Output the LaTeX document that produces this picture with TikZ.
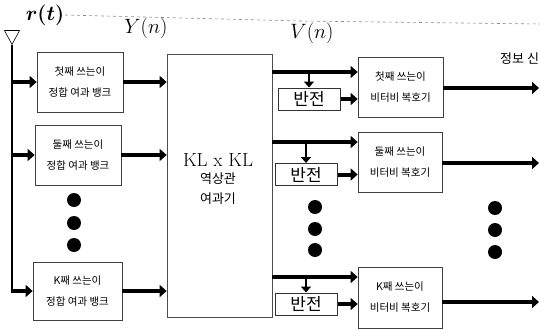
\documentclass[tikz,border=0pt]{standalone}
\usepackage{amsmath}
\usepackage{fontspec}
\newfontfamily\kr{Noto Sans CJK KR}
\usetikzlibrary{arrows.meta,shapes.geometric}
\begin{document}
\begin{tikzpicture}[x=1pt,y=-1pt,
  box/.style={draw=black!75,line width=0.7pt,minimum width=86pt,minimum height=60pt,inner sep=1pt,align=center,font=\kr\fontsize{10.5}{21}\selectfont},
  inv/.style={draw=black!80,line width=1pt,minimum width=62pt,minimum height=22pt,inner sep=0pt,font=\kr\fontsize{17}{17}\selectfont},
  big/.style={line width=4pt,-{Triangle[length=7pt,width=12pt]}},
  small/.style={line width=2.5pt,-{Triangle[length=6pt,width=10pt]}},
  dot/.style={circle,fill=black,minimum size=14pt,inner sep=0pt},
  sig/.style={font=\fontsize{22}{22}\selectfont\itshape}
]
\useasboundingbox (0,0) rectangle (540,329);
% faint scan line
\draw[black!45,dashed,line width=0.6pt] (65,15) -- (300,21) -- (540,24);
% labels
\node[sig] (rt) at (45,15) {$\boldsymbol{r(t)}$};
\node[sig] (yn) at (146,28) {$Y(n)$};
\node[sig] (vn) at (312,33) {$V(n)$};
\node[font=\kr\fontsize{13}{13}\selectfont,anchor=west,inner sep=0pt] (info) at (500,59) {정보 신};
% antenna
\node[draw,isosceles triangle,isosceles triangle stretches,shape border rotate=-90,minimum width=15pt,minimum height=14pt,inner sep=0pt,line width=0.6pt] (ant) at (12,35) {};
% left boxes
\node[box] (m1) at (80,82) {첫째 쓰는이\\정합 여과 뱅크};
\node[box] (m2) at (78,155) {둘째 쓰는이\\정합 여과 뱅크};
\node[box,minimum width=89pt,minimum height=58pt] (mK) at (77.5,291) {K째 쓰는이\\정합 여과 뱅크};
\node[dot] (ld1) at (74,200) {};
\node[dot] (ld2) at (74,223) {};
\node[dot] (ld3) at (74,245) {};
% big box
\node[draw=black!70,line width=0.7pt,minimum width=105pt,minimum height=263pt,align=center] (kl) at (219.5,185.5) {};
\node[font=\fontsize{19}{19}\selectfont] (klt) at (218,160) {KL x KL};
\node[font=\kr\fontsize{13}{20}\selectfont,align=center] (klk) at (218,189) {역상관\\여과기};
% antenna line and inputs
\coordinate (a1) at (12,82);
\coordinate (a2) at (12,155);
\coordinate (aK) at (12,291);
\draw[line width=2pt] (ant.apex) -- (aK);
\draw[big] (a1) -- (m1.west);
\draw[big] (a2) -- (m2.west);
\draw[big] ([xshift=-1pt]aK) -- (mK.west);
\draw[big] (m1.east) -- (m1.east -| kl.west);
\draw[big] (m2.east) -- (m2.east -| kl.west);
\draw[big] (mK.east) -- (mK.east -| kl.west);
% right side
\node[box,minimum width=85pt] (v1) at (400.5,87) {첫째 쓰는이\\비터비 복호기};
\node[box,minimum width=84pt] (v2) at (400,162) {둘째 쓰는이\\비터비 복호기};
\node[box,minimum width=84pt,minimum height=61pt] (v3) at (400,297.5) {K째 쓰는이\\비터비 복호기};
\node[inv] (b1) at (309,99) {반전};
\node[inv] (b2) at (306,174.5) {반전};
\node[inv] (b3) at (306,304) {반전};
\coordinate (s1) at (kl.east |- 0,72);
\coordinate (s2) at (kl.east |- 0,142);
\coordinate (s3) at (kl.east |- 0,277);
\draw[big] (s1) -- (s1 -| v1.west);
\draw[big] (s2) -- (s2 -| v2.west);
\draw[big] (s3) -- (s3 -| v3.west);
\draw[small] (b1.north |- s1) -- (b1.north);
\draw[small] (b2.north |- s2) -- (b2.north);
\draw[small] (b3.north |- s3) -- (b3.north);
\draw[big] (b1.east) -- (b1.east -| v1.west);
\draw[big] (b2.east) -- (b2.east -| v2.west);
\draw[big] (b3.east) -- (b3.east -| v3.west);
\coordinate (o1) at (539,88);
\coordinate (o2) at (539,163);
\coordinate (o3) at (539,302);
\draw[big] (v1.east |- o1) -- (o1);
\draw[big] (v2.east |- o2) -- (o2);
\draw[big] (v3.east |- o3) -- (o3);
\node[dot] (cd1) at (315,207) {};
\node[dot] (cd2) at (315,229) {};
\node[dot] (cd3) at (315,250) {};
\node[dot] (rd1) at (495,208) {};
\node[dot] (rd2) at (495,230) {};
\node[dot] (rd3) at (495,252) {};
\end{tikzpicture}
\end{document}
